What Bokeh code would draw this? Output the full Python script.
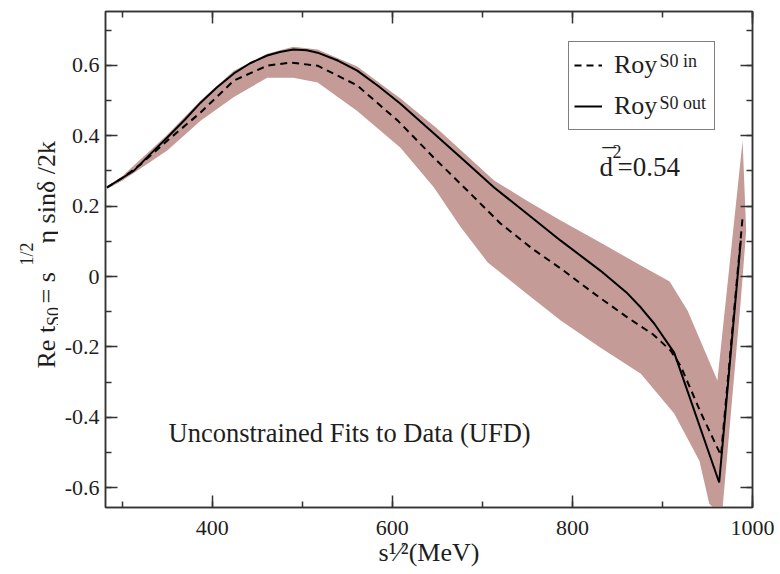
import numpy as np
from bokeh.plotting import figure
from bokeh.layouts import row
from bokeh.models import (Label, Legend, LegendItem, LinearAxis, Range1d,
                          SingleIntervalTicker, CustomJSTickFormatter)
from bokeh.core.properties import value
from bokeh.embed import file_html
from bokeh.resources import INLINE

# ---------------- data ----------------
roy_out_x = [283, 300, 313, 330, 350, 370, 387, 405, 424, 442, 461, 475, 490, 505, 517,
             540, 561, 585, 609, 639, 676, 713, 750, 787, 831, 860, 876, 891, 913, 963, 987]
roy_out_y = [0.253, 0.280, 0.301, 0.345, 0.395, 0.447, 0.494, 0.537, 0.577, 0.606, 0.628,
             0.638, 0.645, 0.643, 0.636, 0.613, 0.585, 0.540, 0.491, 0.423, 0.338, 0.253,
             0.178, 0.102, 0.017, -0.045, -0.088, -0.134, -0.216, -0.585, 0.102]

roy_in_x = [283, 300, 320, 350, 387, 424, 461, 487, 517, 561, 606, 646, 683, 720, 755,
            787, 825, 861, 890, 909, 920, 943, 965, 989]
roy_in_y = [0.253, 0.280, 0.318, 0.386, 0.466, 0.557, 0.599, 0.608, 0.599, 0.543, 0.443,
            0.338, 0.245, 0.151, 0.080, 0.023, -0.050, -0.116, -0.165, -0.210, -0.253,
            -0.389, -0.508, 0.168]

band_upper_x = [283, 300, 350, 387, 424, 461, 490, 517, 561, 609, 650, 713, 750, 787,
                831, 870, 908, 928, 961, 989]
band_upper_y = [0.257, 0.285, 0.403, 0.500, 0.585, 0.633, 0.653, 0.645, 0.597, 0.506,
                0.420, 0.273, 0.215, 0.159, 0.097, 0.040, -0.014, -0.097, -0.295, 0.386]

band_lower_x = [283, 300, 350, 387, 424, 461, 490, 517, 561, 609, 646, 676, 706, 750,
                787, 830, 876, 913, 941, 952, 966, 987, 993]
band_lower_y = [0.249, 0.272, 0.358, 0.443, 0.510, 0.565, 0.565, 0.551, 0.470, 0.366,
                0.254, 0.140, 0.040, -0.050, -0.125, -0.200, -0.276, -0.389, -0.523,
                -0.645, -0.680, -0.068, 0.130]

x_ticks_interval = 200
y_ticks_interval = 0.2
legend_labels = ["Roy", "Roy"]
legend_sups = ["S0 in", "S0 out"]
chi2_text = "=0.54"
note_text = "Unconstrained Fits to Data (UFD)"
x_title = "s\u00b9\u2044\u00b2(MeV)"

# ---------------- layout ----------------
X_START, X_END = 281.4, 1000.0
Y_START, Y_END = -0.656, 0.753
TOTAL_W, TOTAL_H = 780, 574
YT_W = 58                       # strip holding the rotated y title
FL, FR, FT, FB = 105, 752, 11, 507   # frame edges in page px

FONT = "Liberation Serif"
TXT = "#1e1e1e"
FRAME = "#333333"
BAND = "#c49b97"


def dx(px):
    return X_START + (px - FL) / (FR - FL) * (X_END - X_START)


def dy(py):
    return Y_END - (py - FT) / (FB - FT) * (Y_END - Y_START)


p = figure(width=TOTAL_W - YT_W, height=TOTAL_H, x_range=Range1d(X_START, X_END),
           y_range=Range1d(Y_START, Y_END), output_backend="svg",
           toolbar_location=None, x_axis_location=None, y_axis_location=None,
           min_border_left=FL - YT_W, min_border_right=TOTAL_W - FR,
           min_border_top=FT, min_border_bottom=TOTAL_H - FB)
p.xgrid.visible = False
p.ygrid.visible = False
p.outline_line_color = FRAME
p.outline_line_width = 1.5
p.background_fill_color = "white"
p.border_fill_color = "white"

yfmt = CustomJSTickFormatter(code="return Math.abs(tick) < 1e-9 ? '0' : tick.toFixed(1);")


def style_axis(ax, show_labels, standoff):
    ax.axis_line_color = FRAME
    ax.axis_line_width = 1.5
    ax.major_tick_in = 12
    ax.major_tick_out = 0
    ax.minor_tick_in = 6
    ax.minor_tick_out = 0
    ax.major_tick_line_color = FRAME
    ax.minor_tick_line_color = FRAME
    ax.major_tick_line_width = 1.5
    ax.minor_tick_line_width = 1.5
    ax.major_label_text_font = FONT
    if show_labels:
        ax.major_label_text_color = TXT
        ax.major_label_text_font_size = "22px"
        ax.major_label_standoff = standoff
    else:
        ax.major_label_text_color = None
        ax.major_label_text_font_size = "1px"
        ax.major_label_standoff = 0


for loc in ["below", "above"]:
    ax = LinearAxis(ticker=SingleIntervalTicker(interval=x_ticks_interval, num_minor_ticks=2))
    style_axis(ax, loc == "below", 13)
    if loc == "below":
        ax.axis_label = x_title
        ax.axis_label_text_font = FONT
        ax.axis_label_text_font_size = "26px"
        ax.axis_label_text_font_style = "normal"
        ax.axis_label_text_color = TXT
        ax.axis_label_standoff = 0
    p.add_layout(ax, loc)
for loc in ["left", "right"]:
    ax = LinearAxis(ticker=SingleIntervalTicker(interval=y_ticks_interval, num_minor_ticks=2),
                    formatter=yfmt)
    style_axis(ax, loc == "left", 6)
    p.add_layout(ax, loc)

# band
band_x = band_upper_x + band_lower_x[::-1]
band_y = band_upper_y + band_lower_y[::-1]
p.patch(band_x, band_y, fill_color=BAND, line_color=None)

r_in = p.line(roy_in_x, roy_in_y, line_color="black", line_width=2, line_dash="7 5")
r_out = p.line(roy_out_x, roy_out_y, line_color="black", line_width=2)

legend = Legend(items=[LegendItem(label=value(legend_labels[0]), renderers=[r_in]),
                       LegendItem(label=value(legend_labels[1]), renderers=[r_out])],
                location=(568 - FL, FB - 130), margin=0, padding=5, spacing=5,
                glyph_width=28, glyph_height=36, label_height=36, label_width=95,
                label_standoff=12, border_line_color="black", border_line_width=1.5,
                label_text_font=FONT, label_text_font_size="26px",
                label_text_color=TXT, background_fill_alpha=0.0)
p.add_layout(legend)


def lab(fig, x, y, text, size, angle=0.0):
    fig.add_layout(Label(x=x, y=y, text=text, text_font=FONT,
                         text_font_size=size, text_color=TXT, angle=angle,
                         text_align="left", text_baseline="alphabetic", level="overlay"))


# legend superscripts
lab(p, dx(659), dy(60), legend_sups[0], "18px")
lab(p, dx(659), dy(102), legend_sups[1], "18px")

# d-bar squared
lab(p, dx(599), dy(166), "d", "27px")
lab(p, dx(602), dy(158), "\u00af", "27px")
lab(p, dx(612), dy(151), "2", "18px")
lab(p, dx(617), dy(166), chi2_text, "27px")

# note
lab(p, dx(168), dy(432), note_text, "26.5px")

# ---------------- y title strip (page px coordinates) ----------------
# the row aligns this strip's frame with the main frame (FT..FB)
yt = figure(width=YT_W, height=TOTAL_H, x_range=Range1d(0, YT_W),
            y_range=Range1d(FB, FT), output_backend="svg", toolbar_location=None,
            x_axis_location=None, y_axis_location=None, min_border=0)
yt.outline_line_color = None
yt.grid.visible = False
yt.background_fill_color = "white"
yt.border_fill_color = "white"

A = np.pi / 2
lab(yt, 46, 368.0, "Re t", "26px", A)
lab(yt, 53, 325.4, "S0", "18px", A)
lab(yt, 46, 303.0, " = s", "26px", A)
lab(yt, 26, 265.0, "1/2", "18px", A)
lab(yt, 46, 243.0, "\u03b7 sin\u03b4 /2k", "26px", A)

layout = row(yt, p)
open("out.html", "w").write(file_html(layout, INLINE))
